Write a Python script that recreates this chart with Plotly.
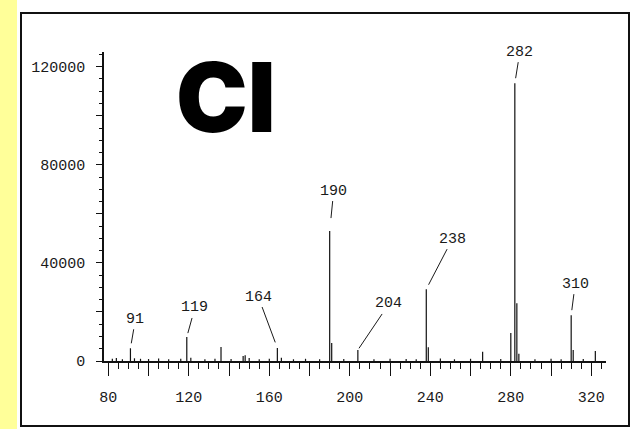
import plotly.graph_objects as go

# ---------------- data ----------------
mz = [82, 84, 87, 91, 93, 96, 100, 105, 110, 116, 119, 121, 128, 133, 136, 141,
      147, 148, 150, 155, 160, 164, 166, 172, 178, 185, 190, 191, 197, 204, 212,
      220, 228, 233, 238, 239, 245, 252, 260, 266, 275, 280, 282, 283, 284, 292,
      300, 305, 310, 311, 316, 322]
intensity = [900, 1200, 700, 5200, 1100, 900, 800, 1000, 700, 900, 9800, 1300, 700, 900, 5700, 800,
             2000, 2300, 1200, 700, 900, 5300, 1300, 700, 900, 700, 53000, 7300, 800, 4500, 700,
             900, 800, 700, 29300, 5600, 1000, 700, 900, 3800, 800, 11400, 113300, 23500, 3000, 700,
             900, 700, 18700, 4500, 800, 4100]

label_mz = [91, 119, 164, 190, 204, 238, 282, 310]
label_text = ["91", "119", "164", "190", "204", "238", "282", "310"]

x_tick_vals = [80, 100, 120, 140, 160, 180, 200, 220, 240, 260, 280, 300, 320]
x_tick_text = ["80", "", "120", "", "160", "", "200", "", "240", "", "280", "", "320"]
y_tick_vals = [0, 20000, 40000, 60000, 80000, 100000, 120000]
y_tick_text = ["0", "", "40000", "", "80000", "", "120000"]

title_text = "CI"

# ---------------- layout geometry ----------------
W, H = 633, 429
ML, MR, MT, MB = 104, 27, 52, 68
PW, PH = W - ML - MR, H - MT - MB


def px_x(p):
    return (p - ML) / PW


def px_y(p):
    return (H - MB - p) / PH


# stick spectrum built from the arrays
xs, ys = [], []
for m, v in zip(mz, intensity):
    xs += [m, m, None]
    ys += [0, v, None]

fig = go.Figure()
fig.add_trace(go.Scatter(x=xs, y=ys, mode="lines",
                         line=dict(color="#111111", width=1.2),
                         hoverinfo="skip", showlegend=False))

font_mono = dict(family="Liberation Mono", size=15, color="#1a1a1a")

# label annotations with leader lines
offsets = {91: (5, -29, 5), 119: (8, -29, 4), 164: (-19, -51, 6), 190: (4, -40, 13),
           204: (31, -46, 2), 238: (26, -50, 5), 282: (5, -31, 5), 310: (4, -31, 5)}
lookup = dict(zip(mz, intensity))
for m, t in zip(label_mz, label_text):
    ax, ay, so = offsets[m]
    fig.add_annotation(x=m, y=lookup[m], text=t, showarrow=True, arrowhead=0,
                       arrowwidth=1, arrowcolor="#1a1a1a", ax=ax, ay=ay,
                       standoff=so, font=font_mono, xref="x", yref="y")

# big CI title
fig.add_annotation(x=px_x(226), y=px_y(97), xref="paper", yref="paper",
                   xanchor="center", yanchor="middle",
                   text=title_text, showarrow=False,
                   font=dict(family="Inter", size=96, weight=900, color="black"))

shapes = [
    dict(type="rect", xref="paper", yref="paper", x0=px_x(0), x1=px_x(17),
         y0=px_y(429), y1=px_y(0), fillcolor="#FFFF99", line=dict(width=0),
         layer="below"),
    dict(type="rect", xref="paper", yref="paper", x0=px_x(21), x1=px_x(629),
         y0=px_y(426), y1=px_y(13), line=dict(color="#111111", width=2),
         layer="below"),
]

fig.update_layout(
    width=W, height=H,
    margin=dict(l=ML, r=MR, t=MT, b=MB),
    paper_bgcolor="white", plot_bgcolor="white",
    shapes=shapes, showlegend=False,
    xaxis=dict(range=[77.86, 327.3], showgrid=False, zeroline=False,
               showline=True, linecolor="#111111", linewidth=1.5,
               tickmode="array", tickvals=x_tick_vals, ticktext=x_tick_text,
               ticks="outside", ticklen=13, tickwidth=1.3, tickcolor="#111111",
               tickfont=font_mono, ticklabelstandoff=8,
               minor=dict(tickmode="linear", tick0=80, dtick=5, ticks="outside",
                          ticklen=6, tickwidth=1.2, tickcolor="#111111", showgrid=False)),
    yaxis=dict(range=[0, 126000], showgrid=False, zeroline=False,
               showline=True, linecolor="#111111", linewidth=1.5,
               tickmode="array", tickvals=y_tick_vals, ticktext=y_tick_text,
               ticks="outside", ticklen=6, tickwidth=1.3, tickcolor="#111111",
               tickfont=font_mono, ticklabelstandoff=8,
               minor=dict(tickmode="linear", tick0=0, dtick=5000, ticks="outside",
                          ticklen=3, tickwidth=1.2, tickcolor="#111111", showgrid=False)),
)

fig.write_html("out.html")
